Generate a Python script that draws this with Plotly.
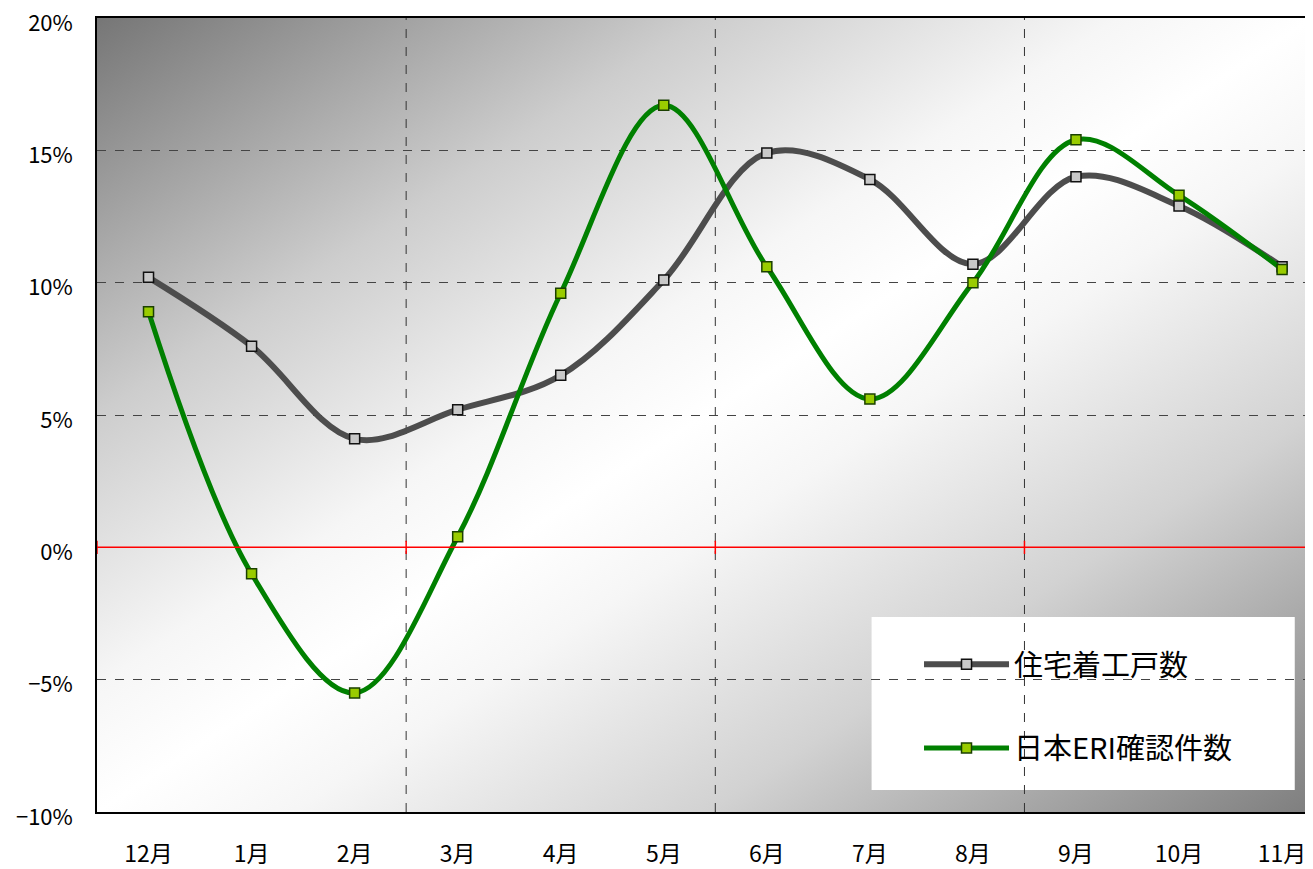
import base64
import plotly.graph_objects as go

months = ["12月", "1月", "2月", "3月", "4月", "5月", "6月", "7月", "8月", "9月", "10月", "11月"]
housing_starts = [10.2, 7.6, 4.1, 5.2, 6.5, 10.1, 14.9, 13.9, 10.7, 14.0, 12.9, 10.6]
eri_confirmations = [8.9, -1.0, -5.5, 0.4, 9.6, 16.7, 10.6, 5.6, 10.0, 15.4, 13.3, 10.5]
y_ticks = [-10, -5, 0, 5, 10, 15, 20]
y_labels = ["−10%", "−5%", "0%", "5%", "10%", "15%", "20%"]
group_dividers = [2.5, 5.5, 8.5]

x_idx = list(range(len(months)))
FONT = "Noto Sans CJK JP"

svg = (
    '<svg xmlns="http://www.w3.org/2000/svg" width="1216" height="794" '
    'viewBox="0 0 1216 794" preserveAspectRatio="none">'
    '<defs><linearGradient id="g" x1="0" y1="0" x2="1" y2="1">'
    '<stop offset="0" stop-color="#767676"/>'
    '<stop offset="0.25" stop-color="#cdcdcd"/>'
    '<stop offset="0.42" stop-color="#f6f6f6"/>'
    '<stop offset="0.5" stop-color="#ffffff"/>'
    '<stop offset="0.58" stop-color="#f6f6f6"/>'
    '<stop offset="0.75" stop-color="#d2d2d2"/>'
    '<stop offset="1" stop-color="#7e7e7e"/>'
    '</linearGradient></defs>'
    '<rect x="0" y="0" width="1216" height="794" fill="url(#g)"/></svg>'
)
bg_uri = "data:image/svg+xml;base64," + base64.b64encode(svg.encode()).decode()

fig = go.Figure()
fig.add_trace(go.Scatter(
    x=x_idx, y=housing_starts, name="住宅着工戸数", mode="lines+markers",
    line=dict(color="#4d4d4d", width=6, shape="spline"),
    marker=dict(symbol="square", size=10, color="#c8c8c8", line=dict(color="#111111", width=1.5)),
    legendgroup="a",
))
fig.add_trace(go.Scatter(
    x=x_idx, y=eri_confirmations, name="日本ERI確認件数", mode="lines+markers",
    line=dict(color="#008000", width=5, shape="spline"),
    marker=dict(symbol="square", size=10, color="#99cc00", line=dict(color="#1a4000", width=1.5)),
    legendgroup="b",
))

shapes = []
# legend box
shapes.append(dict(type="rect", xref="paper", yref="paper", x0=0.637, x1=0.985, y0=0.0277, y1=0.2456,
                   fillcolor="white", line=dict(width=0), layer="below"))
for d in group_dividers:
    shapes.append(dict(type="line", xref="x", yref="paper", x0=d, x1=d, y0=0, y1=1,
                       line=dict(color="#333333", width=1, dash="dash"), layer="below"))
# red zero line and ticks
shapes.append(dict(type="line", xref="paper", yref="y", x0=0, x1=1, y0=0, y1=0,
                   line=dict(color="#ff0000", width=1.5)))
for d in [-0.5] + group_dividers:
    shapes.append(dict(type="line", xref="x", yref="y", x0=d, x1=d, y0=-0.25, y1=0.25,
                       line=dict(color="#ff0000", width=1.5)))

fig.update_layout(
    width=1305, height=861,
    margin=dict(l=89, r=0, t=10, b=57),
    paper_bgcolor="white", plot_bgcolor="rgba(0,0,0,0)",
    font=dict(family=FONT, color="black"),
    images=[dict(source=bg_uri, xref="paper", yref="paper", x=0, y=1, sizex=1, sizey=1,
                 sizing="stretch", xanchor="left", yanchor="top", layer="below")],
    shapes=shapes,
    showlegend=True,
    legend=dict(x=0.676, y=0.218, xanchor="left", yanchor="top", bgcolor="rgba(0,0,0,0)",
                font=dict(family=FONT, size=29, color="black"), tracegroupgap=43,
                traceorder="grouped", itemwidth=85),
)
fig.update_xaxes(
    range=[-0.5, 11.3], tickvals=x_idx, ticktext=months, showgrid=False, zeroline=False,
    showline=True, linecolor="black", linewidth=1.5, mirror=True, ticks="",
    tickfont=dict(family=FONT, size=23), ticklabelstandoff=21,
    automargin=False, ticklabeloverflow="allow",
)
fig.update_yaxes(
    range=[-10, 20], tickvals=y_ticks, ticktext=y_labels, showgrid=True, gridcolor="#444444",
    griddash="dash", gridwidth=1, zeroline=False,
    showline=True, linecolor="black", linewidth=1.5, mirror=True, ticks="",
    tickfont=dict(family=FONT, size=22), ticklabelstandoff=18, ticklabelshift=5,
    automargin=False, ticklabeloverflow="allow",
)
fig.write_html("out.html")
